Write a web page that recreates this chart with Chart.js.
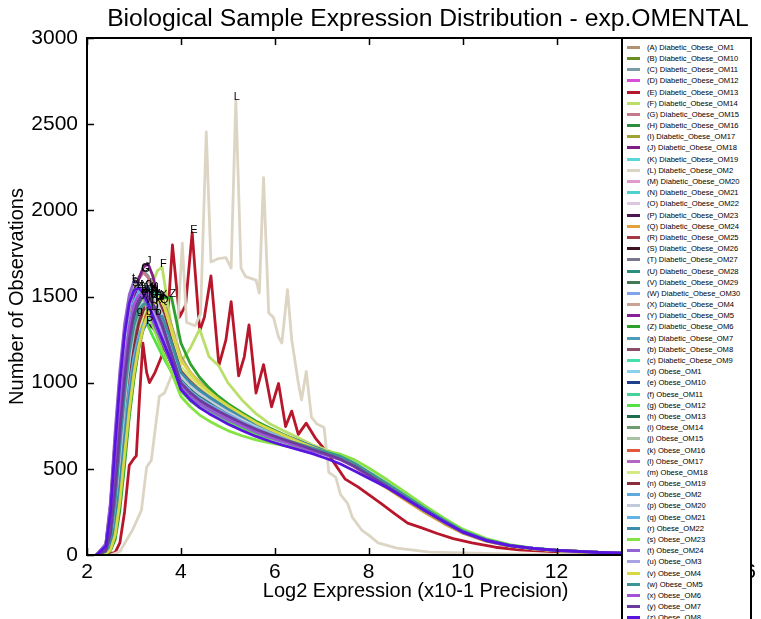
<!DOCTYPE html>
<html><head><meta charset="utf-8">
<script src="https://cdn.jsdelivr.net/npm/chart.js@4.4.0/dist/chart.umd.min.js"></script>
<style>
html,body{margin:0;padding:0;background:#fff;overflow:hidden;}
#wrap{position:relative;width:761px;height:619px;overflow:hidden;}
#c{position:absolute;left:0;top:0;}
#title{position:absolute;left:97px;width:662px;top:4px;text-align:center;font-family:"Liberation Sans",Arial,sans-serif;font-size:24.7px;line-height:28px;color:#000;white-space:nowrap;}
#legend{position:absolute;left:621px;top:37px;width:131px;height:600px;background:#fff;border:2px solid #000;box-sizing:border-box;padding-top:2.7px;font-family:"Liberation Sans",Arial,sans-serif;font-size:7.6px;color:#000;}
.row{height:11.2px;white-space:nowrap;display:flex;align-items:center;}
.sw{width:13px;height:3px;margin-left:4px;margin-right:7px;flex:none;}
</style></head>
<body>
<div id="wrap">
<canvas id="c" width="761" height="619"></canvas>
<div id="title">Biological Sample Expression Distribution - exp.OMENTAL</div>
<div id="legend"></div>
</div>
<script>
// ---- categories / labels ----
const letters = ['A','B','C','D','E','F','G','H','I','J','K','L','M','N','O','P','Q','R','S','T','U','V','W','X','Y','Z',
 'a','b','c','d','e','f','g','h','i','j','k','l','m','n','o','p','q','r','s','t','u','v','w','x','y','z'];
const sampleNames = ['Diabetic_Obese_OM1','Diabetic_Obese_OM10','Diabetic_Obese_OM11','Diabetic_Obese_OM12','Diabetic_Obese_OM13',
 'Diabetic_Obese_OM14','Diabetic_Obese_OM15','Diabetic_Obese_OM16','Diabetic_Obese_OM17','Diabetic_Obese_OM18','Diabetic_Obese_OM19',
 'Diabetic_Obese_OM2','Diabetic_Obese_OM20','Diabetic_Obese_OM21','Diabetic_Obese_OM22','Diabetic_Obese_OM23','Diabetic_Obese_OM24',
 'Diabetic_Obese_OM25','Diabetic_Obese_OM26','Diabetic_Obese_OM27','Diabetic_Obese_OM28','Diabetic_Obese_OM29','Diabetic_Obese_OM30',
 'Diabetic_Obese_OM4','Diabetic_Obese_OM5','Diabetic_Obese_OM6','Diabetic_Obese_OM7','Diabetic_Obese_OM8','Diabetic_Obese_OM9',
 'Obese_OM1','Obese_OM10','Obese_OM11','Obese_OM12','Obese_OM13','Obese_OM14','Obese_OM15','Obese_OM16','Obese_OM17','Obese_OM18',
 'Obese_OM19','Obese_OM2','Obese_OM20','Obese_OM21','Obese_OM22','Obese_OM23','Obese_OM24','Obese_OM3','Obese_OM4','Obese_OM5',
 'Obese_OM6','Obese_OM7','Obese_OM8'];
const colors = ['#b09373','#6b8e23','#7b9ba6','#d84fd8','#b8172b','#b9df6a','#c47a8a','#2e8b3a','#a3a335','#7f1f86','#58d8dc',
 '#ddd5c4','#e19ad0','#4fd0d0','#dcc6e0','#4d1650','#e2a33a','#a33b46','#3f1420','#7b7590','#2b8c80','#3f7a55','#7fa5e6',
 '#c9a393','#8a1f9c','#2da12d','#4f9bbb','#8c4d6c','#45e0a8','#8ccfee','#1f3f8f','#45d399','#55e045','#1c6e4c','#6e9c70',
 '#a9c2a3','#e2583a','#b366c4','#d3ea85','#8b2c3c','#5fa9dc','#c3cad9','#64b3e3','#3c8caa','#85e343','#9263d3','#aaa3e3',
 '#d8d845','#3d9494','#a354d6','#6c3c9c','#5a14e0'];

// ---- axis ticks ----
const xTicks = [2,4,6,8,10,12,14,16];
const yTicks = [0,500,1000,1500,2000,2500,3000];

// ---- shared x grid (Log2 expression) for most samples ----
const xGrid = [2.2,2.4,2.5,2.6,2.7,2.8,2.9,3.0,3.1,3.2,3.3,3.4,3.5,3.6,3.8,4.0,4.2,4.4,4.6,4.8,5.0,5.3,5.6,5.9,6.2,6.5,6.8,
 7.1,7.4,7.7,8.0,8.4,8.8,9.2,9.6,10.0,10.5,11.0,11.5,12.0,13.0,14.0,16.0];

// ---- series values (number of observations) ----
const vA = [0,10,40,150,390,690,960,1160,1310,1410,1460,1490,1500,1450,1260,1090,1030,980,940,900,860,810,760,720,690,655,625,595,565,520,465,395,325,255,190,130,82,52,36,26,13,6,0];
const vB = [0,15,70,240,540,860,1120,1300,1420,1480,1505,1510,1460,1390,1200,1040,975,930,895,860,830,785,745,710,680,650,620,590,560,518,468,400,330,262,196,136,86,55,38,27,14,6,0];
const vC = [0,30,150,420,780,1100,1350,1520,1610,1650,1620,1540,1450,1370,1180,1010,950,905,870,840,810,770,730,700,670,640,610,585,555,515,462,395,325,255,192,133,84,54,37,27,14,6,0];
const vD = [0,15,80,250,540,830,1060,1230,1330,1390,1415,1420,1380,1320,1160,1000,940,900,865,835,805,765,725,695,665,640,610,585,558,520,470,402,330,262,196,136,86,55,38,27,14,6,0];
const xE = [2.4,2.6,2.7,2.8,2.9,3.0,3.05,3.12,3.19,3.27,3.33,3.45,3.6,3.7,3.82,3.97,4.1,4.24,4.4,4.5,4.64,4.81,4.96,5.07,5.23,5.35,5.45,5.6,5.76,5.93,6.08,6.23,6.36,6.5,6.67,6.86,7.1,7.3,7.5,7.77,8.0,8.26,8.55,8.83,9.1,9.46,9.8,10.2,10.7,11.2,12.0,13.0,14.0,16.0];
const vE = [0,15,70,250,520,560,575,920,1230,1060,1000,1060,1160,1300,1800,1380,1450,1870,1300,1380,1620,1100,1250,1470,1040,1150,1335,940,1105,860,995,745,835,700,765,680,600,520,440,395,350,300,240,185,160,125,95,70,45,30,18,10,5,0];
const vF = [0,10,40,140,350,620,880,1080,1250,1380,1480,1580,1650,1670,1320,1120,1200,1310,1150,1100,1000,900,820,760,720,680,640,610,575,530,478,405,335,262,195,135,85,54,37,26,13,6,0];
const vG = [0,25,130,400,750,1060,1320,1500,1600,1640,1610,1530,1450,1380,1200,1040,980,935,900,865,835,790,750,715,685,655,625,595,565,520,468,398,328,258,194,134,85,54,37,27,14,6,0];
const vH = [0,12,60,210,480,790,1050,1250,1390,1470,1510,1530,1525,1460,1250,1070,1000,950,910,875,840,795,755,720,690,660,630,600,570,525,472,402,330,260,195,135,85,55,38,27,14,6,0];
const vI = [0,8,35,130,340,620,880,1090,1250,1370,1440,1490,1510,1500,1330,1150,1060,1000,950,905,865,815,765,725,690,655,622,592,560,515,460,392,322,252,188,130,82,52,36,26,13,6,0];
const vJ = [0,20,100,330,680,1030,1300,1480,1600,1670,1690,1620,1510,1400,1190,1020,960,915,880,848,818,775,735,702,672,642,612,585,556,515,464,396,326,256,192,132,84,54,37,27,14,6,0];
const vK = [0,15,75,250,560,880,1140,1320,1440,1505,1535,1540,1490,1420,1220,1050,990,940,905,870,838,792,752,718,688,657,627,597,566,522,470,400,330,260,195,135,85,55,38,27,14,6,0];
const xL = [2.5,2.7,2.97,3.16,3.27,3.37,3.54,3.65,3.82,3.9,4.03,4.12,4.3,4.42,4.54,4.64,4.8,4.96,5.07,5.17,5.28,5.38,5.6,5.67,5.76,5.87,5.97,6.08,6.15,6.27,6.36,6.5,6.57,6.67,6.78,6.9,7.05,7.15,7.3,7.4,7.55,7.65,7.85,8.0,8.2,8.6,9.3,10.0,11.0,12.0,13.0,16.0];
const vL = [0,20,145,260,510,550,920,940,1055,1190,1810,1350,1330,1400,2455,1700,1720,1725,1665,2640,1665,1615,1595,1520,2190,1405,1380,1265,1230,1540,1250,1000,900,1065,800,760,740,480,450,350,300,220,145,115,70,40,17,12,6,3,1,0];
const vM = [0,18,90,290,620,940,1190,1360,1460,1505,1520,1490,1430,1360,1190,1030,970,925,890,858,828,784,744,712,682,652,620,590,560,518,467,398,328,258,194,134,85,55,38,27,14,6,0];
const vN = [0,12,60,200,470,780,1040,1240,1380,1460,1500,1520,1515,1450,1240,1060,995,948,908,873,840,796,756,722,692,661,630,600,568,524,472,402,331,260,195,135,85,55,38,27,14,6,0];
const vO = [0,10,45,160,400,700,960,1150,1290,1380,1435,1465,1480,1440,1250,1080,1020,970,930,892,857,808,760,724,692,660,628,598,566,520,466,396,326,256,191,132,84,53,37,26,13,6,0];
const vP = [0,15,80,260,540,820,1040,1200,1290,1330,1340,1320,1280,1230,1110,980,930,892,862,834,806,768,730,700,672,645,615,588,560,520,470,402,332,262,196,136,86,55,38,27,14,6,0];
const vQ = [0,5,30,110,300,560,820,1030,1190,1310,1390,1440,1455,1460,1300,1130,1060,1000,955,912,872,822,772,730,693,658,624,592,558,510,455,385,315,245,182,126,80,51,35,25,13,6,0];
const vR = [0,10,50,170,420,720,980,1170,1300,1385,1440,1462,1470,1430,1240,1070,1010,962,922,885,850,802,758,722,690,658,626,595,562,516,463,394,323,254,190,131,83,53,37,26,13,6,0];
const vS = [0,60,290,680,1030,1300,1470,1560,1545,1490,1420,1350,1290,1230,1110,990,935,895,862,832,804,765,727,696,667,640,612,586,558,518,468,400,330,260,195,135,85,55,38,27,14,6,0];
const vT = [0,15,80,260,580,900,1150,1330,1430,1480,1500,1495,1450,1380,1200,1035,975,930,895,862,832,788,748,714,684,653,622,592,562,519,468,399,329,259,194,134,85,55,38,27,14,6,0];
const vU = [0,14,70,240,540,850,1100,1280,1400,1460,1485,1490,1450,1385,1205,1040,980,935,900,866,835,790,750,716,686,655,624,594,564,520,469,400,330,260,195,135,85,55,38,27,14,6,0];
const vV = [0,12,62,210,490,800,1050,1240,1370,1445,1485,1500,1495,1435,1235,1055,992,944,905,870,838,793,753,719,689,658,627,597,566,522,470,400,330,260,195,135,85,55,38,27,14,6,0];
const vW = [0,20,100,320,660,980,1230,1400,1490,1525,1530,1495,1430,1360,1180,1020,962,918,884,852,823,780,741,709,679,649,618,589,559,517,466,398,328,258,194,134,85,55,38,27,14,6,0];
const vX = [0,8,35,130,340,620,880,1080,1240,1350,1420,1465,1488,1490,1320,1140,1060,1000,950,905,865,815,767,727,692,657,624,593,561,516,462,393,323,253,189,131,83,53,36,26,13,6,0];
const vY = [0,25,120,380,730,1050,1300,1460,1530,1550,1545,1500,1430,1360,1180,1020,960,915,880,848,818,775,736,704,674,645,614,586,557,516,466,398,328,258,194,134,85,55,38,27,14,6,0];
const vZ = [0,5,25,90,260,520,800,1020,1200,1320,1400,1445,1475,1490,1495,1230,1110,1030,970,920,878,826,776,735,698,662,628,596,562,516,462,393,323,253,189,131,83,53,36,26,13,6,0];
const va = [0,25,120,370,720,1030,1270,1430,1500,1520,1515,1475,1410,1345,1170,1010,952,910,876,846,818,776,738,706,676,647,617,588,558,517,466,398,328,258,194,134,85,55,38,27,14,6,0];
const vb = [0,15,80,250,540,830,1070,1240,1340,1380,1390,1385,1350,1300,1160,1010,955,912,878,846,816,774,735,703,673,645,615,587,558,517,467,399,329,259,194,134,85,55,38,27,14,6,0];
const vc = [0,15,75,250,560,880,1130,1310,1430,1495,1525,1530,1480,1410,1215,1045,985,938,902,868,836,791,751,717,687,656,626,596,566,522,470,400,330,260,195,135,85,55,38,27,14,6,0];
const vd = [0,20,110,340,690,1010,1270,1440,1525,1555,1560,1520,1450,1375,1190,1025,965,920,885,853,823,780,741,709,679,649,618,589,559,517,466,398,328,258,194,134,85,55,38,27,14,6,0];
const ve = [0,30,150,430,780,1080,1300,1430,1490,1510,1490,1445,1385,1325,1160,1005,948,906,873,843,815,774,736,704,675,646,616,588,559,518,467,399,329,259,194,134,85,55,38,27,14,6,0];
const vf = [0,16,85,270,580,890,1130,1300,1410,1460,1478,1480,1440,1375,1195,1030,972,927,892,860,830,786,746,712,682,652,621,592,562,519,468,399,329,259,194,134,85,55,38,27,14,6,0];
const vg = [0,40,220,560,880,1120,1290,1375,1400,1380,1330,1270,1215,1160,1060,950,895,855,825,797,770,735,702,677,655,635,612,590,565,525,475,408,338,268,201,140,88,57,39,28,14,6,0];
const vh = [0,18,95,300,630,950,1190,1360,1450,1490,1500,1475,1420,1350,1180,1020,962,918,884,852,823,780,741,709,679,649,618,589,559,517,466,398,328,258,194,134,85,55,38,27,14,6,0];
const vi = [0,14,72,240,540,850,1100,1280,1395,1455,1482,1490,1455,1390,1210,1040,980,935,900,866,835,790,750,716,686,655,624,594,564,520,469,400,330,260,195,135,85,55,38,27,14,6,0];
const vj = [0,12,60,200,460,760,1010,1200,1330,1410,1450,1465,1470,1425,1240,1060,998,950,911,875,843,798,758,723,692,661,630,600,568,524,471,401,331,260,195,135,85,55,38,27,14,6,0];
const vk = [0,10,48,165,410,700,960,1150,1285,1375,1425,1450,1460,1420,1235,1070,1010,962,922,885,850,802,757,721,690,657,625,594,561,515,462,393,323,253,189,131,83,53,36,26,13,6,0];
const vl = [0,28,140,410,760,1070,1310,1460,1525,1540,1520,1470,1400,1335,1165,1008,950,908,874,844,816,775,737,705,675,646,616,588,558,517,466,398,328,258,194,134,85,55,38,27,14,6,0];
const vm = [0,10,45,160,400,700,960,1160,1300,1395,1455,1485,1500,1460,1265,1090,1030,980,938,898,860,810,762,725,693,660,628,597,565,519,465,396,326,256,191,132,84,53,37,26,13,6,0];
const vn = [0,12,58,195,455,760,1010,1205,1340,1420,1460,1475,1480,1430,1240,1065,1002,953,913,877,845,800,759,724,693,662,630,600,568,523,470,400,330,259,194,134,85,55,38,27,14,6,0];
const vo = [0,12,60,200,450,730,970,1150,1270,1340,1375,1388,1390,1360,1200,1040,985,942,906,872,840,796,756,721,690,659,628,598,566,521,469,400,330,260,195,135,85,55,38,27,14,6,0];
const vp = [0,16,80,260,570,880,1130,1310,1420,1475,1497,1500,1460,1395,1210,1040,980,935,900,866,835,790,750,716,686,655,624,594,564,520,469,400,330,260,195,135,85,55,38,27,14,6,0];
const vq = [0,30,150,430,790,1100,1330,1470,1525,1530,1505,1455,1390,1330,1165,1008,950,908,874,844,816,775,737,705,675,646,616,588,558,517,466,398,328,258,194,134,85,55,38,27,14,6,0];
const vr = [0,10,50,170,400,670,910,1100,1230,1310,1355,1380,1390,1385,1230,1060,1000,955,917,882,849,804,762,726,694,662,630,599,566,521,468,399,329,259,194,134,85,55,38,27,14,6,0];
const vs = [0,55,280,670,1020,1300,1480,1580,1560,1490,1410,1330,1260,1190,1060,920,860,812,778,748,722,692,668,650,635,622,612,602,585,552,505,435,360,285,215,150,95,60,40,28,14,6,0];
const vt = [0,65,310,720,1070,1340,1510,1590,1570,1505,1430,1360,1295,1235,1110,975,918,875,842,812,785,748,712,682,655,630,604,580,553,515,466,399,329,259,194,134,85,55,38,27,14,6,0];
const vu = [0,45,230,600,960,1250,1440,1530,1560,1545,1495,1430,1360,1295,1145,995,940,898,865,835,807,768,731,700,671,643,614,587,558,517,467,399,329,259,194,134,85,55,38,27,14,6,0];
const vv = [0,6,30,115,310,580,840,1050,1210,1320,1395,1440,1468,1480,1310,1130,1055,995,948,905,866,816,768,728,693,658,625,594,562,517,463,394,324,254,190,131,83,53,36,26,13,6,0];
const vw = [0,20,100,310,630,930,1170,1330,1420,1455,1460,1440,1395,1335,1170,990,930,888,855,825,798,760,725,697,670,645,620,597,572,532,482,414,342,270,203,141,89,57,39,28,14,6,0];
const vx = [0,32,160,450,800,1100,1320,1450,1505,1520,1500,1455,1390,1325,1160,990,932,888,855,825,797,757,720,690,662,636,608,582,553,512,462,395,325,256,192,133,84,54,37,27,14,6,0];
const vy = [0,25,125,380,720,1020,1250,1400,1475,1500,1495,1460,1400,1335,1165,1000,942,898,865,834,806,766,729,698,669,641,612,585,556,515,465,397,327,257,193,133,84,54,37,27,14,6,0];
const vz = [0,50,250,640,1000,1280,1460,1535,1550,1520,1460,1390,1320,1255,1120,960,900,855,820,790,760,722,688,660,635,612,588,560,528,488,445,390,325,258,194,134,85,55,38,27,14,6,0];

const seriesValues = [vA,vB,vC,vD,vE,vF,vG,vH,vI,vJ,vK,vL,vM,vN,vO,vP,vQ,vR,vS,vT,vU,vV,vW,vX,vY,vZ,
 va,vb,vc,vd,ve,vf,vg,vh,vi,vj,vk,vl,vm,vn,vo,vp,vq,vr,vs,vt,vu,vv,vw,vx,vy,vz];
const seriesX = {4: xE, 11: xL};

// ---- build datasets ----
const N = seriesValues.length;
const datasets = seriesValues.map((vals, i) => {
  const xs = seriesX[i] || xGrid;
  const n = Math.min(xs.length, vals.length);
  const data = [];
  for (let k = 0; k < n; k++) data.push({x: xs[k], y: vals[k]});
  return {
    label: '(' + letters[i] + ') ' + sampleNames[i],
    data, borderColor: colors[i], backgroundColor: colors[i],
    borderWidth: 2.8, pointRadius: 0, tension: 0, fill: false,
    borderJoinStyle: 'round', borderCapStyle: 'round',
    order: N - i
  };
});

const FONT = '"Liberation Sans", Arial, sans-serif';

const framePlugin = {
  id: 'frame',
  afterDatasetsDraw(chart) {
    const {ctx, chartArea: {left, top, right, bottom}, scales: {x, y}} = chart;
    ctx.save();
    // peak labels
    ctx.fillStyle = '#000';
    ctx.font = '11px ' + FONT;
    ctx.textAlign = 'left';
    ctx.textBaseline = 'alphabetic';
    chart.data.datasets.forEach((ds, i) => {
      let best = ds.data[0];
      ds.data.forEach(p => { if (p.y > best.y) best = p; });
      ctx.fillText(letters[i], x.getPixelForValue(best.x) - 2, y.getPixelForValue(best.y));
    });
    // inward tick marks
    ctx.strokeStyle = '#000';
    ctx.lineWidth = 1.5;
    ctx.beginPath();
    xTicks.forEach(v => {
      const px = Math.round(x.getPixelForValue(v)) + 0.5;
      ctx.moveTo(px, bottom); ctx.lineTo(px, bottom - 7);
      ctx.moveTo(px, top); ctx.lineTo(px, top + 7);
    });
    yTicks.forEach(v => {
      const py = Math.round(y.getPixelForValue(v)) + 0.5;
      ctx.moveTo(left, py); ctx.lineTo(left + 7, py);
      ctx.moveTo(right, py); ctx.lineTo(right - 7, py);
    });
    ctx.stroke();
    // frame
    ctx.lineWidth = 2;
    ctx.strokeRect(left, top, right - left, bottom - top);
    ctx.restore();
  }
};

new Chart(document.getElementById('c'), {
  type: 'line',
  data: {datasets},
  options: {
    responsive: false, animation: false, events: [],
    layout: {padding: {top: 38, right: 12, left: 0, bottom: 0}},
    plugins: {legend: {display: false}, tooltip: {enabled: false}, title: {display: false}},
    scales: {
      x: {
        type: 'linear', min: 2, max: 16,
        afterBuildTicks: s => { s.ticks = xTicks.map(v => ({value: v})); },
        ticks: {color: '#000', font: {family: FONT, size: 21}, padding: 5, maxRotation: 0, autoSkip: false,
                callback: v => String(v)},
        grid: {display: false, drawTicks: false},
        border: {display: false},
        title: {display: true, text: 'Log2 Expression (x10-1 Precision)', color: '#000',
                font: {family: FONT, size: 20}, padding: {top: 0, bottom: 16}},
        afterFit: s => { s.height = 64; }
      },
      y: {
        type: 'linear', min: 0, max: 3000,
        afterBuildTicks: s => { s.ticks = yTicks.map(v => ({value: v})); },
        ticks: {color: '#000', font: {family: FONT, size: 21}, padding: 9, callback: v => String(v)},
        grid: {display: false, drawTicks: false},
        border: {display: false},
        title: {display: true, text: 'Number of Observations', color: '#000',
                font: {family: FONT, size: 20}, padding: {top: 5, bottom: 0}},
        afterFit: s => { s.width = 87; }
      }
    }
  },
  plugins: [framePlugin]
});

// ---- legend (HTML) ----
const lg = document.getElementById('legend');
letters.forEach((L, i) => {
  const row = document.createElement('div');
  row.className = 'row';
  const sw = document.createElement('span');
  sw.className = 'sw';
  sw.style.background = colors[i];
  const tx = document.createElement('span');
  tx.textContent = '(' + L + ') ' + sampleNames[i];
  row.appendChild(sw); row.appendChild(tx);
  lg.appendChild(row);
});
</script>
</body></html>
